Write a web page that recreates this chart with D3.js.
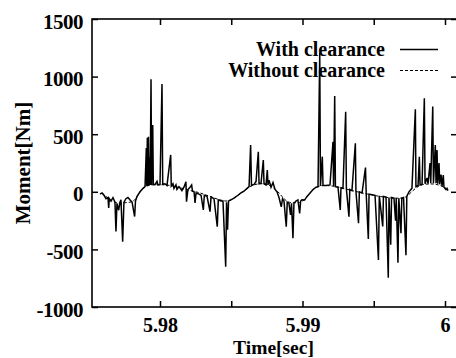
<!DOCTYPE html>
<html>
<head>
<meta charset="utf-8">
<script src="https://cdn.jsdelivr.net/npm/d3@7"></script>
<style>
  html, body { margin: 0; padding: 0; background: #fff; }
  svg { display: block; }
  text { font-family: "Liberation Serif", "Times New Roman", serif; font-weight: bold; fill: #000; }
</style>
</head>
<body>
<svg id="chart" width="456" height="358"></svg>
<script>
// ---- data ----
const timeWith = [
  5.97579, 5.97593, 5.97607, 5.97621, 5.97635, 5.97640, 5.97644, 5.97656, 5.97670, 5.97684,
  5.97691, 5.97698, 5.97710, 5.97719, 5.97726, 5.97738, 5.97747, 5.97761, 5.97775, 5.97789,
  5.97804, 5.97822, 5.97828, 5.97839, 5.97860, 5.97881, 5.97895, 5.97904, 5.97907, 5.97911,
  5.97914, 5.97919, 5.97923, 5.97928, 5.97931, 5.97937, 5.97941, 5.97949, 5.97953, 5.97965,
  5.97979, 5.97986, 5.98000, 5.98014, 5.98019, 5.98035, 5.98049, 5.98075, 5.98079, 5.98091,
  5.98098, 5.98112, 5.98119, 5.98133, 5.98140, 5.98154, 5.98168, 5.98182, 5.98186, 5.98196,
  5.98211, 5.98222, 5.98228, 5.98239, 5.98246, 5.98253, 5.98274, 5.98288, 5.98304, 5.98311,
  5.98330, 5.98351, 5.98358, 5.98379, 5.98402, 5.98409, 5.98428, 5.98442, 5.98461, 5.98467,
  5.98474, 5.98481, 5.98498, 5.98519, 5.98547, 5.98568, 5.98589, 5.98611, 5.98625, 5.98636,
  5.98642, 5.98660, 5.98674, 5.98690, 5.98695, 5.98709, 5.98725, 5.98730, 5.98744, 5.98753,
  5.98758, 5.98765, 5.98779, 5.98793, 5.98807, 5.98821, 5.98835, 5.98851, 5.98860, 5.98870,
  5.98886, 5.98893, 5.98905, 5.98916, 5.98923, 5.98933, 5.98940, 5.98954, 5.98968, 5.98980,
  5.98987, 5.98996, 5.99015, 5.99032, 5.99053, 5.99074, 5.99095, 5.99109, 5.99121, 5.99126,
  5.99139, 5.99144, 5.99165, 5.99193, 5.99214, 5.99218, 5.99226, 5.99231, 5.99249, 5.99265,
  5.99270, 5.99284, 5.99303, 5.99308, 5.99326, 5.99332, 5.99347, 5.99371, 5.99375, 5.99393,
  5.99399, 5.99418, 5.99442, 5.99447, 5.99462, 5.99467, 5.99488, 5.99509, 5.99533, 5.99539,
  5.99563, 5.99568, 5.99586, 5.99602, 5.99607, 5.99619, 5.99625, 5.99642, 5.99653, 5.99658,
  5.99670, 5.99676, 5.99691, 5.99697, 5.99709, 5.99726, 5.99732, 5.99747, 5.99768, 5.99792,
  5.99796, 5.99811, 5.99820, 5.99825, 5.99839, 5.99855, 5.99860, 5.99874, 5.99881, 5.99895,
  5.99900, 5.99914, 5.99919, 5.99932, 5.99937, 5.99944, 5.99949, 5.99958, 5.99963, 5.99972,
  5.99979, 5.99988, 5.99993, 6.00007, 6.00014, 6.00021
];
const momentWith = [
  -20, -10, -30, -60, -50, -140, -60, -80, -50, -90,
  -345, -100, -160, -90, -70, -433, -90, -60, -50, -70,
  -90, -215, -80, -40, 0, 30, 45, 380, 50, 470,
  50, 478, 55, 300, 60, 977, 60, 580, 65, 62,
  90, 60, 62, 936, 65, 70, 55, 320, 50, 70,
  30, 60, 20, 45, 35, 10, 40, 88, -86, 20,
  40, 59, 5, 0, -97, -10, -20, -30, -158, -30,
  -40, -172, -45, -60, -303, -70, -80, -80, -650, -90,
  -330, -80, -70, -55, -30, -10, 5, 30, 45, 406,
  55, 65, 90, 348, 70, 75, 276, 70, 60, 189,
  60, 100, 40, 80, 20, 0, -50, -130, -60, -80,
  -303, -90, -100, -200, -100, -404, -100, -80, -70, -187,
  -80, -70, -71, -40, -10, 20, 40, 45, 1205, 50,
  305, 55, 55, 60, 435, 50, 832, 45, 40, -158,
  35, 30, 695, 25, -216, 20, 10, 421, 5, -273,
  0, -10, 210, -15, -410, -20, -25, -30, -592, -35,
  -300, -40, -45, -745, -50, -460, -50, -55, -250, -55,
  -615, -55, -360, -55, -50, -550, -40, 0, 30, 716,
  45, 55, 305, 60, 65, 811, 70, 120, 70, 250,
  75, 740, 75, 406, 75, 363, 70, 250, 65, 150,
  50, 146, 40, 20, 30, 10
];
const timeWithout = [
  5.97593, 5.97621, 5.97649, 5.97684, 5.97719, 5.97754, 5.97789, 5.97818, 5.97839, 5.97860,
  5.97881, 5.97909, 5.97944, 5.98000, 5.98070, 5.98140, 5.98211, 5.98281, 5.98351, 5.98421,
  5.98463, 5.98505, 5.98547, 5.98589, 5.98632, 5.98674, 5.98716, 5.98758, 5.98800, 5.98828,
  5.98856, 5.98884, 5.98926, 5.98968, 5.98996, 5.99025, 5.99053, 5.99081, 5.99109, 5.99151,
  5.99235, 5.99333, 5.99439, 5.99544, 5.99649, 5.99705, 5.99740, 5.99775, 5.99811, 5.99853,
  5.99909, 5.99965, 6.00007
];
const momentWithout = [
  -10, -40, -70, -90, -100, -95, -90, -75, -40, 0,
  30, 50, 60, 62, 55, 35, 12, -10, -40, -70,
  -80, -65, -30, 5, 45, 65, 70, 60, 30, 0,
  -40, -75, -95, -95, -85, -55, -10, 25, 45, 55,
  45, 15, -15, -40, -55, -55, -30, 10, 45, 65,
  68, 55, 30
];
const xTicks = [5.98, 5.985, 5.99, 5.995, 6];
const xTickLabels = ["5.98", "", "5.99", "", "6"];
const yTicks = [-1000, -500, 0, 500, 1000, 1500];
const yTickLabels = ["-1000", "-500", "0", "500", "1000", "1500"];
const seriesNames = ["With clearance", "Without clearance"];

// ---- layout ----
const frameL = 92, frameR = 457, frameT = 19, frameB = 307;
const svg = d3.select("#chart");

const x = d3.scaleLinear().domain([5.98, 6]).range([160, 445]);
const y = d3.scaleLinear().domain([-1000, 1500]).range([frameB, frameT]);

svg.append("defs").append("clipPath").attr("id", "plotClip")
  .append("rect").attr("x", frameL).attr("y", frameT)
  .attr("width", frameR - frameL).attr("height", frameB - frameT);

// ---- series ----
const withData = timeWith.map((t, i) => ({ t, v: momentWith[i] }));
const withoutData = timeWithout.map((t, i) => ({ t, v: momentWithout[i] }));

const plot = svg.append("g").attr("clip-path", "url(#plotClip)");

plot.append("path")
  .datum(withoutData)
  .attr("fill", "none")
  .attr("stroke", "#000")
  .attr("stroke-width", 1)
  .attr("stroke-dasharray", "3,2")
  .attr("d", d3.line().x(d => x(d.t)).y(d => y(d.v)).curve(d3.curveMonotoneX));

plot.append("path")
  .datum(withData)
  .attr("fill", "none")
  .attr("stroke", "#000")
  .attr("stroke-width", 1.5)
  .attr("stroke-linejoin", "miter")
  .attr("d", d3.line().x(d => x(d.t)).y(d => y(d.v)));

// ---- axes ----
const fontSize = 21;
const tickFont = 20;
const gLeft = svg.append("g").attr("transform", `translate(${frameL},0)`)
  .call(d3.axisLeft(y).tickValues(yTicks).tickSize(-6).tickPadding(9)
    .tickFormat((d, i) => yTickLabels[i]));
gLeft.select(".domain").remove();
gLeft.selectAll(".tick line").attr("stroke", "#000").attr("stroke-width", 1.5);
gLeft.selectAll(".tick text").attr("font-size", fontSize).attr("dy", "9px")
  .attr("font-family", "Liberation Serif, Times New Roman, serif").attr("font-weight", "bold")
  .attr("letter-spacing", "-0.5px");

const gBottom = svg.append("g").attr("transform", `translate(0,${frameB})`)
  .call(d3.axisBottom(x).tickValues(xTicks).tickSize(-6).tickPadding(0)
    .tickFormat((d, i) => xTickLabels[i]));
gBottom.select(".domain").remove();
gBottom.selectAll(".tick line").attr("stroke", "#000").attr("stroke-width", 1.5);
gBottom.selectAll(".tick text").attr("font-size", tickFont).attr("y", 25).attr("dy", "0")
  .attr("font-family", "Liberation Serif, Times New Roman, serif").attr("font-weight", "bold");

const gTop = svg.append("g").attr("transform", `translate(0,${frameT})`)
  .call(d3.axisTop(x).tickValues(xTicks).tickSize(-6).tickFormat(""));
gTop.select(".domain").remove();
gTop.selectAll(".tick line").attr("stroke", "#000").attr("stroke-width", 1.5);

const gRight = svg.append("g").attr("transform", `translate(${frameR},0)`)
  .call(d3.axisRight(y).tickValues(yTicks).tickSize(-6).tickFormat(""));
gRight.select(".domain").remove();
gRight.selectAll(".tick line").attr("stroke", "#000").attr("stroke-width", 1.5);

// frame
svg.append("rect")
  .attr("x", frameL).attr("y", frameT)
  .attr("width", frameR - frameL).attr("height", frameB - frameT)
  .attr("fill", "none").attr("stroke", "#000").attr("stroke-width", 1.6);

// axis titles
svg.append("text")
  .attr("x", (frameL + 455) / 2).attr("y", 354)
  .attr("text-anchor", "middle").attr("font-size", 19.5)
  .text("Time[sec]");

svg.append("text")
  .attr("transform", `translate(30,${(frameT + frameB) / 2}) rotate(-90)`)
  .attr("text-anchor", "middle").attr("font-size", fontSize)
  .text("Moment[Nm]");

// legend
const legend = svg.append("g");
const legendRows = [
  { name: seriesNames[0], y: 56, lineY: 49.5, dash: null, w: 1.3 },
  { name: seriesNames[1], y: 77, lineY: 70.5, dash: "3,2", w: 1 }
];
legendRows.forEach(r => {
  legend.append("text")
    .attr("x", 385).attr("y", r.y)
    .attr("text-anchor", "end").attr("font-size", 20)
    .text(r.name);
  legend.append("line")
    .attr("x1", 400).attr("x2", 438)
    .attr("y1", r.lineY).attr("y2", r.lineY)
    .attr("stroke", "#000").attr("stroke-width", r.w)
    .attr("stroke-dasharray", r.dash);
});
</script>
</body>
</html>
